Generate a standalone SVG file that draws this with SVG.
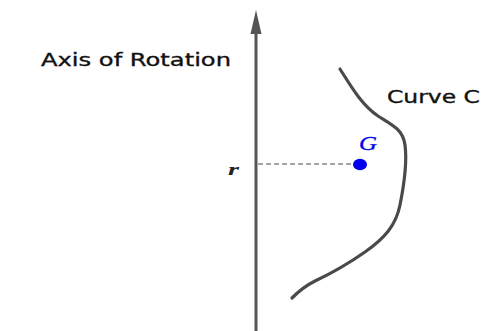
<svg xmlns="http://www.w3.org/2000/svg" width="497" height="331" viewBox="0 0 497 331">
<style>
.lbl{font-family:"DejaVu Sans","Liberation Sans",sans-serif;fill:#111;stroke:#111;stroke-width:0.35;}
.math{font-family:"Liberation Serif","DejaVu Serif",serif;font-style:italic;}
</style>
<rect width="497" height="331" fill="#fff"/>
<g id="axis">
<line x1="256" y1="331" x2="256" y2="30" stroke="#555" stroke-width="3"/>
<polygon points="256,10 250.5,34 261.5,34" fill="#555"/>
<text class="lbl" x="41" y="66" font-size="18" textLength="190" lengthAdjust="spacingAndGlyphs">Axis of Rotation</text>
</g>
<g id="curve">
<path d="M340,69 C352,88 362,105 378,116 C394,126 403,130 405,145 C407,160 404,185 400,205 C396,225 385,238 365,252 C345,266 330,274 315,281 C305,286 298,292 292,298" fill="none" stroke="#4a4a4a" stroke-width="3.2" stroke-linecap="round"/>
<text class="lbl" x="387" y="103" font-size="17.5" textLength="93" lengthAdjust="spacingAndGlyphs">Curve C</text>
</g>
<g id="connectors">
<line x1="258" y1="164" x2="354" y2="164" stroke="#888" stroke-width="1.3" stroke-dasharray="5,3"/>
</g>
<g id="r-label">
<text class="math" x="228" y="175" font-size="17" font-weight="bold" fill="#222" textLength="11" lengthAdjust="spacingAndGlyphs">r</text>
</g>
<g id="G">
<ellipse cx="360" cy="164.5" rx="7" ry="5.7" fill="#0000ee"/>
<text class="math" x="359" y="150" font-size="18.5" fill="#0000ee" stroke="#0000ee" stroke-width="0.3" textLength="18" lengthAdjust="spacingAndGlyphs">G</text>
</g>
</svg>
